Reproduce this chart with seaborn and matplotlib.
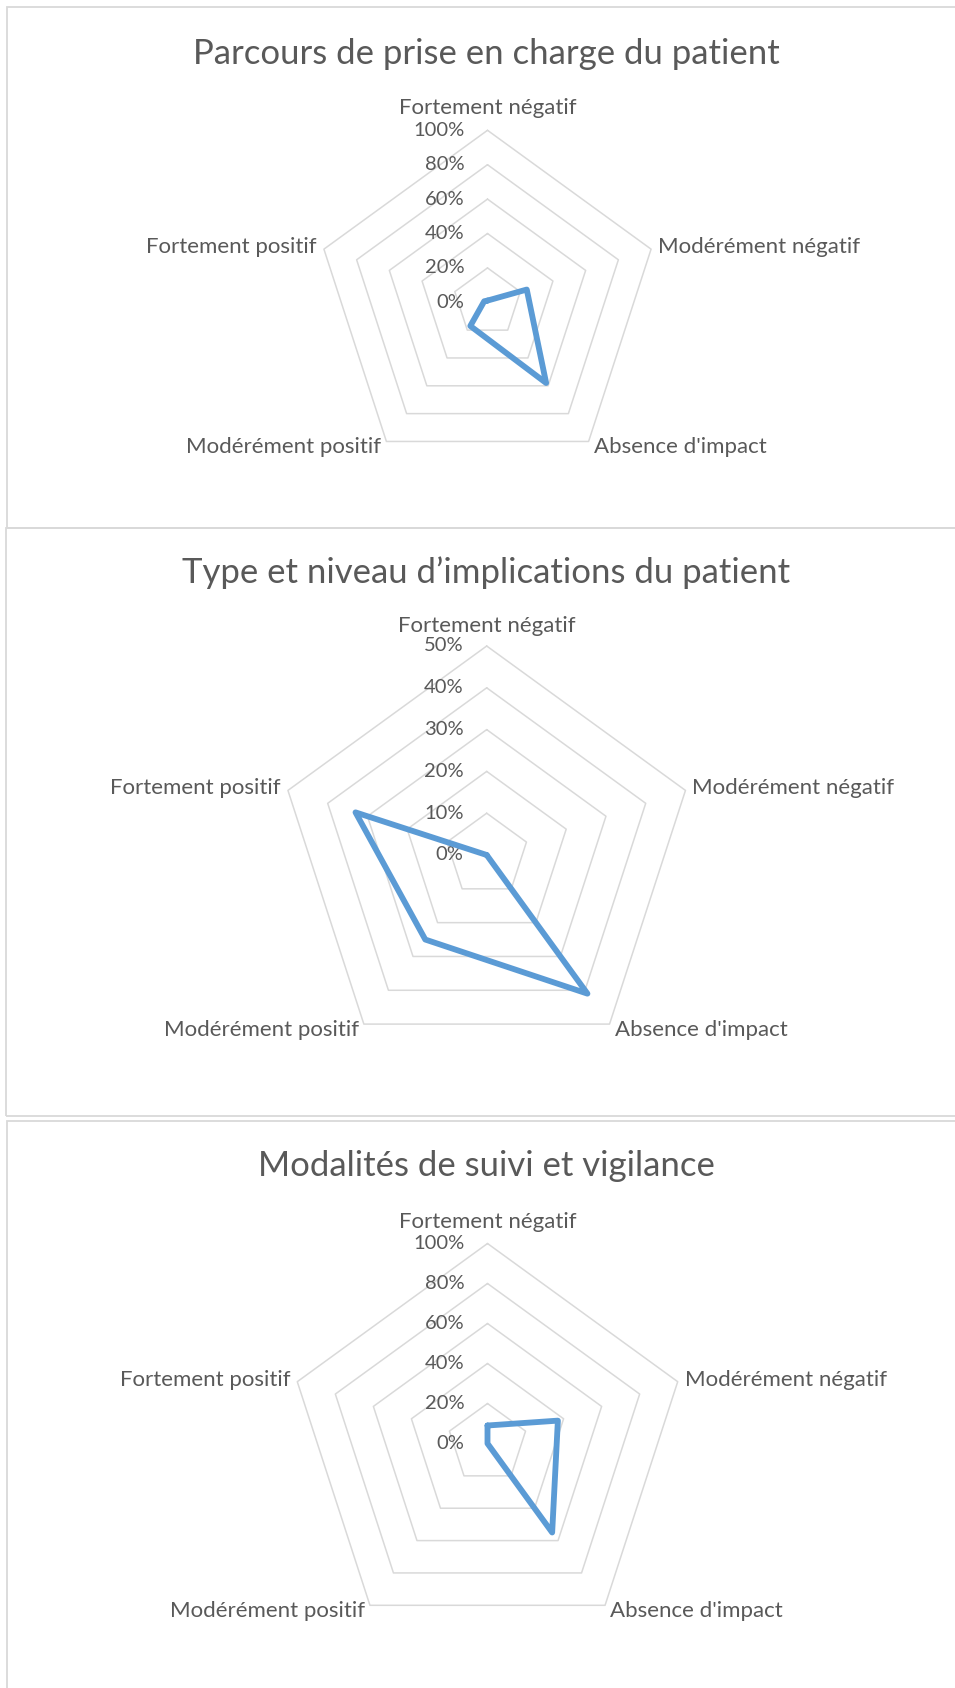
import numpy as np
import matplotlib
matplotlib.use("Agg")
import matplotlib.pyplot as plt
from matplotlib.patches import Rectangle
import seaborn as sns

categories = ["Fortement négatif", "Modérément négatif", "Absence d'impact",
              "Modérément positif", "Fortement positif"]

titles = ["Parcours de prise en charge du patient",
          "Type et niveau d\u2019implications du patient",
          "Modalités de suivi et vigilance"]

parcours = [0.01, 0.24, 0.58, 0.17, 0.02]
implication = [0.0, 0.0, 0.41, 0.25, 0.33]
suivi = [0.09, 0.37, 0.55, 0.0, 0.0]

ticks_100 = [0, 0.2, 0.4, 0.6, 0.8, 1.0]
ticks_50 = [0, 0.1, 0.2, 0.3, 0.4, 0.5]

sns.set_theme(style="white")
plt.rcParams['font.family'] = ['Lato', 'DejaVu Sans']

W, H = 955, 1688
fig = plt.figure(figsize=(W / 100, H / 100), dpi=100)
fig.patch.set_facecolor('white')

TXT = '#595959'
GRID = '#D9D9D9'
BLUE = '#5B9BD5'

# panel frames (x, top, bottom) in pixels
frames = [(7.3, 7.3, 527.7), (5.7, 527.7, 1115.7), (7.3, 1120.7, 1700)]
for x0, top, bot in frames:
    fig.add_artist(Rectangle((x0 / W, 1 - bot / H), (W + 20 - x0) / W, (bot - top) / H,
                             transform=fig.transFigure, fill=False,
                             edgecolor=GRID, lw=1.3, clip_on=False))

# center x, center y, radius (pixels), title baseline
panels = [
    (parcours, ticks_100, 487.5, 302.3, 172, 63.7, 12),
    (implication, ticks_50, 486.7, 855.0, 209, 583.1, 10),
    (suivi, ticks_100, 487.5, 1443.5, 200, 1175.6, 12),
]

angles = np.linspace(0, 2 * np.pi, len(categories), endpoint=False)
closed = np.append(angles, angles[0] + 2 * np.pi)

label_offsets = [(0, 10, 'center', 'bottom'),
                 (7, 2, 'left', 'center'),
                 (5, -6, 'left', 'center'),
                 (-5, -6, 'right', 'center'),
                 (-7, 2, 'right', 'center')]

for (vals, ticks, cx, cy, R, ty, top_gap), title in zip(panels, titles):
    ax = fig.add_axes([(cx - R) / W, 1 - (cy + R) / H, 2 * R / W, 2 * R / H],
                      projection='polar')
    ax.set_theta_zero_location('N')
    ax.set_theta_direction(-1)
    rmax = ticks[-1]
    ax.set_ylim(0, rmax)
    ax.grid(False)
    ax.spines['polar'].set_visible(False)
    ax.set_xticks([])
    ax.set_yticks([])
    ax.patch.set_alpha(0)

    for lv in ticks[1:]:
        ax.plot(closed, [lv] * len(closed), color=GRID, lw=1.1, clip_on=False, zorder=1)

    for lv in ticks:
        ax.annotate(f"{int(round(lv * 100))}%", xy=(0, lv), xytext=(-23, 0),
                    textcoords='offset pixels', ha='right', va='center',
                    color=TXT, fontsize=14.5)

    for i, (ang, cat, (dx, dy, ha, va)) in enumerate(zip(angles, categories, label_offsets)):
        if i == 0:
            dy = top_gap
        ax.annotate(cat, xy=(ang, rmax), xytext=(dx, dy), textcoords='offset pixels',
                    ha=ha, va=va, color=TXT, fontsize=16, annotation_clip=False)

    v = np.append(vals, vals[0])
    sns.lineplot(x=closed, y=v, sort=False, estimator=None, ax=ax, color=BLUE,
                 lw=4.2, zorder=3)
    for ln in ax.lines[-1:]:
        ln.set_solid_joinstyle('round')
        ln.set_clip_on(False)
    ax.set_xlabel('')
    ax.set_ylabel('')

    fig.text(486 / W, 1 - ty / H, title, ha='center', va='baseline',
             color=TXT, fontsize=25)

fig.savefig('out.png', dpi=100, facecolor='white')
